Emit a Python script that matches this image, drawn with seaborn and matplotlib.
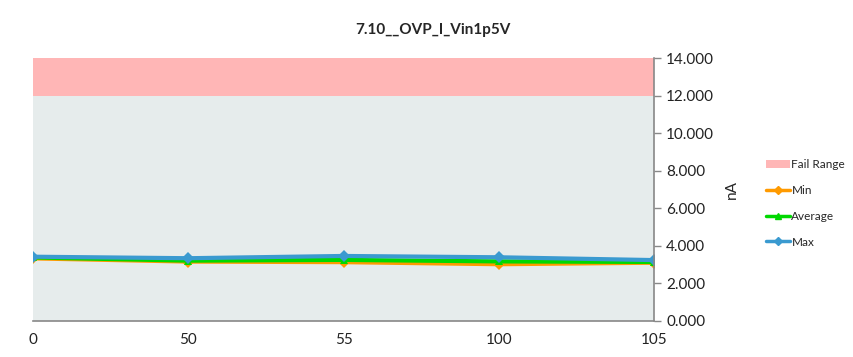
import matplotlib
matplotlib.use("Agg")
import matplotlib.pyplot as plt
import seaborn as sns
import pandas as pd
from matplotlib.patches import Patch
from matplotlib.lines import Line2D

categories = ["0", "50", "55", "100", "105"]
min_vals = [3.33, 3.16, 3.13, 3.02, 3.10]
avg_vals = [3.38, 3.21, 3.25, 3.17, 3.14]
max_vals = [3.42, 3.34, 3.46, 3.39, 3.24]
fail_low, fail_high = 12.0, 14.0
y_ticks = [0, 2, 4, 6, 8, 10, 12, 14]

sns.set_style("white")
plt.rcParams['font.family'] = ['Lato', 'DejaVu Sans']

fig = plt.figure(figsize=(8.54, 3.57), dpi=100)
ax = fig.add_axes([0.0386, 0.101, 0.7275, 0.7365])

pos = list(range(len(categories)))
df = pd.DataFrame({"pos": pos * 3,
                   "val": min_vals + avg_vals + max_vals,
                   "series": ["Min"] * 5 + ["Average"] * 5 + ["Max"] * 5})

ax.axhspan(0, fail_low, color="#E6ECEC", zorder=0, lw=0)
ax.axhspan(fail_low, fail_high, color="#FFB6B6", zorder=0, lw=0)

colors = {"Min": "#FF9A00", "Average": "#00D800", "Max": "#3A9AD0"}
markers = {"Min": "D", "Average": "^", "Max": "D"}
for s in ["Min", "Average", "Max"]:
    d = df[df.series == s]
    sns.lineplot(data=d, x="pos", y="val", ax=ax, color=colors[s], marker=markers[s],
                 markersize=6, markeredgewidth=0, linewidth=3, legend=False)

ax.set_xlim(0, 4)
ax.set_ylim(0, 14)
ax.set_xticks(pos)
ax.set_xticklabels(categories)
ax.set_yticks(y_ticks)
ax.set_yticklabels([f"{v:.3f}" for v in y_ticks])
ax.yaxis.tick_right()
ax.yaxis.set_label_position("right")
ax.set_ylabel("nA", fontsize=11, labelpad=8)
ax.set_xlabel("")
for side in ["top", "left"]:
    ax.spines[side].set_visible(False)
for side in ["bottom", "right"]:
    ax.spines[side].set_color("#888888")
    ax.spines[side].set_linewidth(1.2)
ax.tick_params(axis="both", labelsize=11, colors="#222222", length=5, width=1, direction="out")
ax.tick_params(axis="x", color="#888888")
ax.tick_params(axis="y", color="#888888")

fig.text(0.507, 0.915, "7.10__OVP_I_Vin1p5V", fontsize=11, fontweight="bold", ha="center", va="center")

handles = [Patch(facecolor="#FFB6B6", edgecolor="none", label="Fail Range"),
           Line2D([], [], color=colors["Min"], marker="D", markersize=4, lw=2.5, label="Min"),
           Line2D([], [], color=colors["Average"], marker="^", markersize=5, lw=2.5, label="Average"),
           Line2D([], [], color=colors["Max"], marker="D", markersize=4, lw=2.5, label="Max")]
fig.legend(handles=handles, loc="center left", bbox_to_anchor=(0.897, 0.43), frameon=False,
           fontsize=8.5, handlelength=2.0, handletextpad=0.15, labelspacing=1.25,
           borderpad=0, borderaxespad=0)

fig.savefig("out.png", dpi=100)
